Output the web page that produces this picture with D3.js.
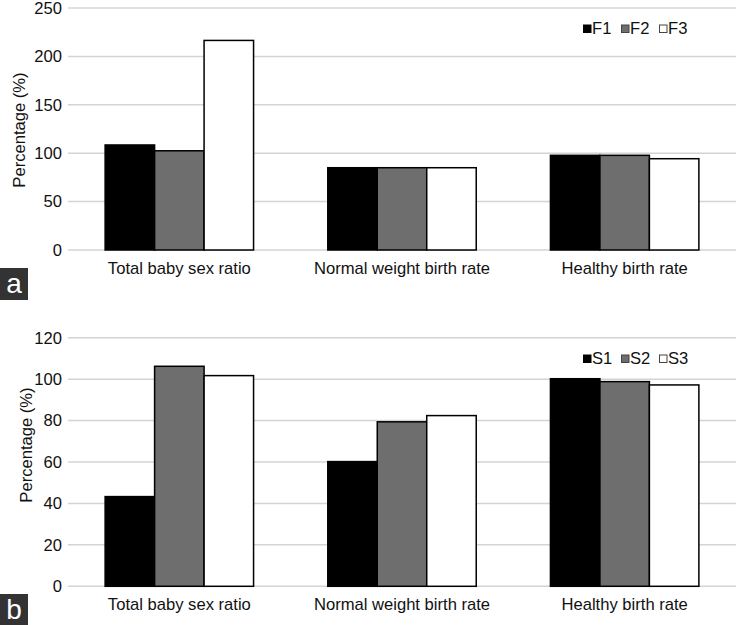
<!DOCTYPE html>
<html><head><meta charset="utf-8">
<script src="https://cdn.jsdelivr.net/npm/d3@7"></script>
<style>body{margin:0;background:#fff}svg{display:block}text{font-family:"Liberation Sans",Arial,sans-serif;fill:#111}</style>
</head><body>
<script>
const categories = ["Total baby sex ratio", "Normal weight birth rate", "Healthy birth rate"];
const seriesA = ["F1", "F2", "F3"];
const valuesA = {F1: [108.5, 85, 97.8], F2: [102.5, 85, 97.8], F3: [216.5, 85, 94.3]};
const ticksA = [0, 50, 100, 150, 200, 250];
const seriesB = ["S1", "S2", "S3"];
const valuesB = {S1: [43.3, 60.2, 100.2], S2: [106.2, 79.4, 98.8], S3: [101.7, 82.4, 97.2]};
const ticksB = [0, 20, 40, 60, 80, 100, 120];
const fills = ["#000000", "#6e6e6e", "#ffffff"];

const W = 737, H = 625;
const FS = "16.6px";
const svg = d3.select("body").append("svg").attr("width", W).attr("height", H);

function panel(cfg) {
  const g = svg.append("g");
  const x0 = d3.scaleBand().domain(categories).range([68, 736]).paddingInner(0.3333).paddingOuter(0.1667);
  const x1 = d3.scaleBand().domain(cfg.series).range([0, x0.bandwidth()]);
  const y = d3.scaleLinear().domain([0, d3.max(cfg.ticks)]).range([cfg.y0, cfg.yTop]);
  g.append("g").selectAll("line").data(cfg.ticks).join("line")
    .attr("x1", 68).attr("x2", 736).attr("y1", d => y(d)).attr("y2", d => y(d))
    .attr("stroke", "#d4d4d4").attr("stroke-width", 1.5);
  const ax = g.append("g").attr("transform", "translate(68,0)")
    .call(d3.axisLeft(y).tickValues(cfg.ticks).tickSize(0).tickPadding(6));
  ax.select(".domain").remove();
  ax.selectAll("text").style("font-size", FS).attr("fill", "#111").style("font-family", '"Liberation Sans",Arial,sans-serif');
  const rows = [];
  categories.forEach((c, i) => cfg.series.forEach((s, j) => rows.push({c, s, j, v: cfg.values[s][i]})));
  g.append("g").selectAll("rect").data(rows).join("rect")
    .attr("x", d => x0(d.c) + x1(d.s)).attr("width", x1.bandwidth())
    .attr("y", d => y(d.v)).attr("height", d => y(0) - y(d.v))
    .attr("fill", d => fills[d.j]).attr("stroke", "#000").attr("stroke-width", 1.5);
  const xa = g.append("g").attr("transform", `translate(0,${cfg.y0})`)
    .call(d3.axisBottom(x0).tickSize(0).tickPadding(12));
  xa.select(".domain").remove();
  xa.selectAll("text").style("font-size", FS).attr("fill", "#111").style("font-family", '"Liberation Sans",Arial,sans-serif');
  g.append("text").attr("transform", `translate(${cfg.titleX},${cfg.titleY}) rotate(-90)`)
    .attr("text-anchor", "middle").style("font-size", FS).text("Percentage (%)");
  const lg = g.append("g").attr("transform", `translate(583,${cfg.legY})`);
  let lx = 0;
  cfg.series.forEach((s, j) => {
    lg.append("rect").attr("x", lx + 0.5).attr("y", -9).attr("width", 7.5).attr("height", 7.5)
      .attr("fill", fills[j]).attr("stroke", j === 0 ? "#000" : "#444").attr("stroke-width", 1);
    lg.append("text").attr("x", lx + 9).attr("y", 0).style("font-size", FS).text(s);
    lx += 38;
  });
  g.append("rect").attr("x", 0).attr("y", cfg.boxY).attr("width", 28).attr("height", 32).attr("fill", "#333");
  g.append("text").attr("x", 14).attr("y", cfg.boxY + 25).attr("text-anchor", "middle")
    .style("font-size", "28px").style("fill", "#fff").text(cfg.label);
}

panel({series: seriesA, values: valuesA, ticks: ticksA, y0: 250, yTop: 8, titleX: 25, titleY: 130, legY: 34, boxY: 268, label: "a"});
panel({series: seriesB, values: valuesB, ticks: ticksB, y0: 586.3, yTop: 337.7, titleX: 32, titleY: 445, legY: 364, boxY: 594, label: "b"});
</script>
</body></html>
